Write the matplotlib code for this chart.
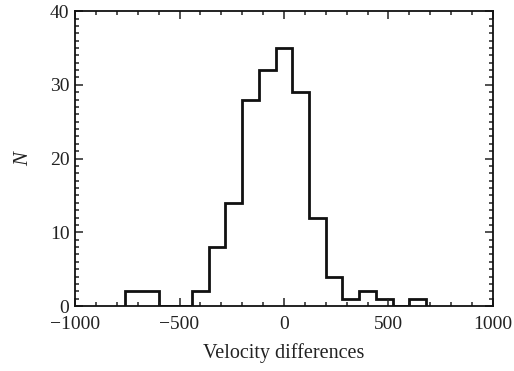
import matplotlib
matplotlib.use("Agg")
import matplotlib.pyplot as plt
from matplotlib.ticker import MultipleLocator

bin_edges = [-760, -680, -600, -520, -440, -360, -280, -200, -120, -40,
             40, 120, 200, 280, 360, 440, 520, 600, 680]
counts = [2, 2, 0, 0, 2, 8, 14, 28, 32, 35, 29, 12, 4, 1, 2, 1, 0, 1]

plt.rcParams['font.family'] = ['Liberation Serif', 'DejaVu Serif']

fig = plt.figure(figsize=(5.14, 3.71), dpi=100)
ax = fig.add_axes([0.146, 0.175, 0.813, 0.795])
ax.stairs(counts, bin_edges, color='#111111', linewidth=2.0, baseline=0)

ax.set_xlim(-1000, 1000)
ax.set_ylim(0, 40)
ax.xaxis.set_major_locator(MultipleLocator(500))
ax.xaxis.set_minor_locator(MultipleLocator(100))
ax.yaxis.set_major_locator(MultipleLocator(10))
ax.yaxis.set_minor_locator(MultipleLocator(1))
ax.tick_params(which='both', direction='in', top=True, right=True,
               labelsize=14, width=1.1, colors='#222222')
ax.tick_params(which='major', length=5.5)
ax.tick_params(which='minor', length=3)
ax.tick_params(axis='x', pad=7.5)
ax.tick_params(axis='y', pad=4)
for s in ax.spines.values():
    s.set_linewidth(1.3)
    s.set_color('#111111')
ax.set_xlabel('Velocity differences', fontsize=14.5, labelpad=7, color='#222222')
ax.set_ylabel('N', fontsize=15, style='italic', labelpad=12, color='#222222')

fig.savefig('out.png', dpi=100)
